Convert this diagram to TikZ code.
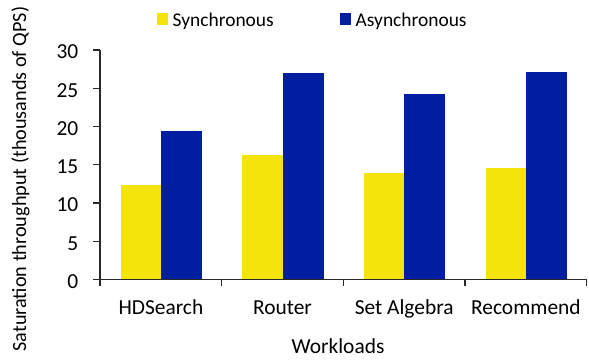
\documentclass[tikz,border=0pt]{standalone}
\usepackage{fontspec}
\setmainfont{Carlito}
\definecolor{syncc}{RGB}{245,228,12}
\definecolor{asyncc}{RGB}{0,30,160}
\definecolor{axisc}{RGB}{40,40,40}
\begin{document}
\begin{tikzpicture}[x=1bp,y=-1bp,
  lbl/.style={font=\fontsize{21.5}{25}\selectfont, text=black, inner sep=0pt},
  leg/.style={font=\fontsize{19.5}{23}\selectfont, text=black, inner sep=0pt, anchor=base west},
  axisline/.style={draw=axisc, line width=1.1bp},
  syncbar/.style={fill=syncc},
  asyncbar/.style={fill=asyncc}]
\useasboundingbox (0,0) rectangle (589,362);
\def\yz{279.5}
\def\ys{7.65}
% bars
\foreach \gx/\sv/\av [count=\i] in {120.5/12.3/19.4, 242.2/16.3/27.0, 363.9/13.9/24.3, 485.6/14.6/27.1}{
  \fill[syncbar] (\gx,\yz) rectangle ({\gx+40.5},{\yz-\ys*\sv});
  \fill[asyncbar] ({\gx+40.5},\yz) rectangle ({\gx+81.5},{\yz-\ys*\av});
}
% axes
\coordinate (ytop) at (100,{\yz-\ys*30});
\coordinate (orig) at (100,\yz);
\coordinate (xend) at (587,\yz);
\draw[axisline] (ytop) -- (orig) -- (xend);
\foreach \v in {0,5,...,30}{
  \coordinate (yt\v) at (100,{\yz-\ys*\v});
  \draw[axisline] (yt\v) -- ++(-7,0);
  \node[lbl, anchor=east] (yl\v) at (78.5,{\yz-\ys*\v+2}) {\v};
}
\foreach \xx [count=\i] in {100,221.7,343.3,465,586.7}{
  \coordinate (xt\i) at (\xx,\yz);
  \draw[axisline] (xt\i) -- ++(0,6);
}
% category labels
\node[lbl, anchor=base] (c1) at (160.9,314) {HDSearch};
\node[lbl, anchor=base] (c2) at (282.5,314) {Router};
\node[lbl, anchor=base] (c3) at (404.2,314) {Set Algebra};
\node[lbl, anchor=base] (c4) at (525.9,314) {Recommend};
% axis titles
\node[lbl, anchor=base] (xlab) at (338,353.5) {Workloads};
\node[lbl, anchor=base, rotate=90, font=\fontsize{20.3}{24}\selectfont] (ylab) at (26,179) {Saturation throughput (thousands of QPS)};
% legend
\fill[syncbar] (157,12.7) rectangle (168,25);
\node[leg] (ls) at (172.5,26.5) {Synchronous};
\fill[asyncbar] (340,12.7) rectangle (351,25);
\node[leg] (la) at (355.5,26.5) {Asynchronous};
\end{tikzpicture}
\end{document}
